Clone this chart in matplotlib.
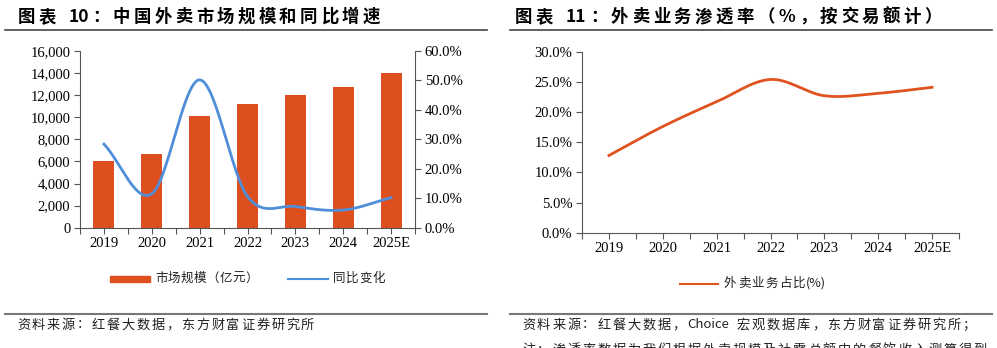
import numpy as np
import matplotlib
matplotlib.use("Agg")
import matplotlib.pyplot as plt
from matplotlib.ticker import FuncFormatter, FixedLocator

plt.rcParams['font.family'] = ['Noto Sans CJK SC', 'DejaVu Sans']

# data
years = ['2019', '2020', '2021', '2022', '2023', '2024', '2025E']
market_size = [6000, 6700, 10100, 11200, 12000, 12700, 14000]      # 亿元
yoy_growth = [28.4, 11.5, 50.2, 10.6, 7.2, 6.0, 10.2]              # %
penetration = [12.8, 17.6, 21.7, 25.4, 22.7, 23.1, 24.1]            # %

BAR_COLOR = '#DD4F1F'
BLUE = '#4F8ED8'
ORANGE = '#E0531F'
SERIF = 'Liberation Serif'


def smooth(x, y, n=30):
    # Catmull-Rom spline, like Excel's "smoothed line"
    x = np.asarray(x, float)
    y = np.asarray(y, float)
    px = np.concatenate([[2 * x[0] - x[1]], x, [2 * x[-1] - x[-2]]])
    py = np.concatenate([[2 * y[0] - y[1]], y, [2 * y[-1] - y[-2]]])
    xs, ys = [], []
    t = np.linspace(0, 1, n)
    for i in range(1, len(px) - 2):
        for p, out in ((px, xs), (py, ys)):
            p0, p1, p2, p3 = p[i - 1], p[i], p[i + 1], p[i + 2]
            out.extend(0.5 * (2 * p1 + (-p0 + p2) * t
                              + (2 * p0 - 5 * p1 + 4 * p2 - p3) * t ** 2
                              + (-p0 + 3 * p1 - 3 * p2 + p3) * t ** 3))
    return np.array(xs), np.array(ys)


fig = plt.figure(figsize=(9.97, 3.48), dpi=100)
W, H = 997, 348
renderer = fig.canvas.get_renderer()


def fx(px):
    return px / W


def fy(py):
    return 1 - py / H


def split_runs(s):
    # group consecutive ascii chars into one run, CJK chars stay single
    runs = []
    for ch in s:
        if ch.isascii() and ch != ' ' and runs and runs[-1].isascii() and runs[-1][-1] != ' ':
            runs[-1] += ch
        else:
            runs.append(ch)
    return runs


def spaced_text(x_px, y_px, s, spacing, va='center', **kw):
    # draw text piece by piece with extra letter spacing (pixels) between CJK chars
    cur = x_px
    for run in split_runs(s):
        if run == ' ':
            cur += kw.get('fontsize', 10) * 100 / 72 * 0.3 + spacing
            continue
        t = fig.text(fx(cur), fy(y_px), run, va=va, ha='left', **kw)
        cur += t.get_window_extent(renderer).width + spacing


def style_axis(ax, right=False):
    ax.spines['top'].set_visible(False)
    if not right:
        ax.spines['right'].set_visible(False)
    for s in ax.spines.values():
        s.set_color('#555555')
        s.set_linewidth(0.8)
    ax.tick_params(axis='both', direction='out', length=4, width=0.8,
                   color='#555555', labelsize=10.5, pad=3)
    for lab in ax.get_xticklabels() + ax.get_yticklabels():
        lab.set_family(SERIF)


# ---------------- left chart ----------------
spaced_text(18, 17, '图表 10：中国外卖市场规模和同比增速', 3.4, fontsize=12.5, fontweight='bold')
fig.add_artist(plt.Line2D([fx(5), fx(487)], [fy(29.5), fy(29.5)], color='#444444', lw=1.2))

ax1 = fig.add_axes([fx(80), fy(227.7), fx(415 - 80), (227.7 - 51) / H])
x = np.arange(len(years))
ax1.bar(x, market_size, width=0.44, color=BAR_COLOR, zorder=2)
ax1.set_xlim(-0.5, len(years) - 0.5)
ax1.set_ylim(0, 16000)
ax1.set_yticks(np.arange(0, 16001, 2000))
ax1.yaxis.set_major_formatter(FuncFormatter(lambda v, p: f'{int(v):,}'))
ax1.set_xticks(x)
ax1.set_xticklabels(years)
ax1.xaxis.set_minor_locator(FixedLocator(np.arange(-0.5, len(years), 1)))
ax1.tick_params(axis='x', which='major', length=0, pad=6)
ax1.tick_params(axis='x', which='minor', length=4, width=0.8, color='#555555')
style_axis(ax1)

ax2 = ax1.twinx()
sx, sy = smooth(x, yoy_growth)
ax2.plot(sx, sy, color=BLUE, lw=2, zorder=3)
ax2.set_ylim(0, 60)
ax2.set_yticks(np.arange(0, 61, 10))
ax2.yaxis.set_major_formatter(FuncFormatter(lambda v, p: f'{v:.1f}%'))
style_axis(ax2, right=True)
ax2.spines['left'].set_visible(False)
ax2.spines['bottom'].set_visible(False)

# legend (left)
fig.patches.append(plt.Rectangle((fx(110), fy(282)), fx(40), 6 / H, color=BAR_COLOR,
                                 transform=fig.transFigure, figure=fig))
spaced_text(155, 278.5, '市场规模（亿元）', 0.4, fontsize=9, color='#222222')
fig.add_artist(plt.Line2D([fx(288), fx(328)], [fy(278.5), fy(278.5)], color=BLUE, lw=1.5))
spaced_text(333, 278.5, '同比变化', 0.6, fontsize=9, color='#222222')

fig.add_artist(plt.Line2D([fx(5), fx(487)], [fy(313.5), fy(313.5)], color='#777777', lw=1.5))
spaced_text(17, 325, '资料来源：红餐大数据，东方财富证券研究所', 1.7, fontsize=9.5, color='#222222')

# ---------------- right chart ----------------
spaced_text(515, 17, '图表 11：外卖业务渗透率（%，按交易额计）', 3.6, fontsize=12.5, fontweight='bold')
fig.add_artist(plt.Line2D([fx(510), fx(992)], [fy(29.5), fy(29.5)], color='#444444', lw=1.2))

ax3 = fig.add_axes([fx(582), fy(232.7), fx(959 - 582), (232.7 - 51.7) / H])
sx, sy = smooth(x, penetration)
ax3.plot(sx, sy, color=ORANGE, lw=2)
ax3.set_xlim(-0.5, len(years) - 0.5)
ax3.set_ylim(0, 30)
ax3.set_yticks(np.arange(0, 31, 5))
ax3.yaxis.set_major_formatter(FuncFormatter(lambda v, p: f'{v:.1f}%'))
ax3.set_xticks(x)
ax3.set_xticklabels(years)
ax3.xaxis.set_minor_locator(FixedLocator(np.arange(-0.5, len(years), 1)))
ax3.tick_params(axis='x', which='major', length=0, pad=8)
ax3.tick_params(axis='x', which='minor', length=4, width=0.8, color='#555555')
style_axis(ax3)

fig.add_artist(plt.Line2D([fx(680), fx(718)], [fy(283.5), fy(283.5)], color=ORANGE, lw=1.5))
spaced_text(724, 283.5, '外卖业务占比(%)', 1.2, fontsize=9, color='#222222')

fig.add_artist(plt.Line2D([fx(510), fx(992)], [fy(313.5), fy(313.5)], color='#777777', lw=1.5))
spaced_text(522, 325, '资料来源：红餐大数据，Choice 宏观数据库，东方财富证券研究所；', 1.8,
            fontsize=9.5, color='#222222')
spaced_text(522, 344, '注：渗透率数据为我们根据外卖规模及社零总额中的餐饮收入测算得到', 1.8,
            va='top', fontsize=9.5, color='#222222')

fig.savefig('out.png', dpi=100)
